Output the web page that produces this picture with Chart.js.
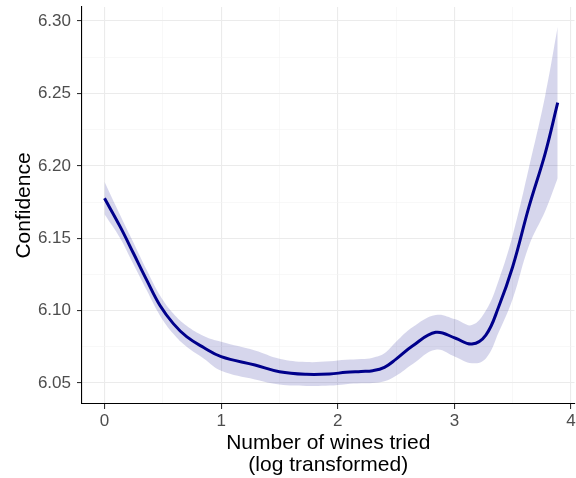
<!DOCTYPE html>
<html>
<head>
<meta charset="utf-8">
<script src="https://cdn.jsdelivr.net/npm/chart.js@4.4.1/dist/chart.umd.min.js"></script>
<style>
  html, body { margin: 0; padding: 0; background: #fff; overflow: hidden; }
  #wrap { position: relative; width: 576px; height: 478px; }
</style>
</head>
<body>
<div id="wrap"><canvas id="grafico_conf"></canvas></div>
<script>
// values (x = log number of wines tried)
var winesLog = [0, 0.134, 0.248, 0.362, 0.476, 0.59, 0.704, 0.85, 1.00, 1.29, 1.50, 1.73, 1.93, 2.07, 2.20, 2.30, 2.40, 2.50, 2.64, 2.84, 3.01, 3.15, 3.27, 3.38, 3.50, 3.64, 3.78, 3.886];
var confFit = [6.1776, 6.1580, 6.1396, 6.1211, 6.1035, 6.0910, 6.0820, 6.0745, 6.0682, 6.0624, 6.0578, 6.0560, 6.0562, 6.0574, 6.0580, 6.0585, 6.0608, 6.0665, 6.0755, 6.0850, 6.0809, 6.0769, 6.0831, 6.1027, 6.1303, 6.1718, 6.2090, 6.2436];
var confLower = [6.1665, 6.1500, 6.1320, 6.1140, 6.0965, 6.0840, 6.0750, 6.0670, 6.0585, 6.0525, 6.0490, 6.0480, 6.0482, 6.0492, 6.0498, 6.0500, 6.0512, 6.0550, 6.0630, 6.0730, 6.0680, 6.0636, 6.0670, 6.0850, 6.1080, 6.1450, 6.1690, 6.1914];
var confUpper = [6.1890, 6.1660, 6.1470, 6.1280, 6.1105, 6.0980, 6.0895, 6.0825, 6.0785, 6.0725, 6.0668, 6.0645, 6.0650, 6.0660, 6.0665, 6.0675, 6.0705, 6.0785, 6.0885, 6.0970, 6.0940, 6.0900, 6.1000, 6.1210, 6.1520, 6.1990, 6.2490, 6.2960];

var xTicks = [0, 0.5, 1, 1.5, 2, 2.5, 3, 3.5, 4];
var yTicks = [6.05, 6.075, 6.10, 6.125, 6.15, 6.175, 6.20, 6.225, 6.25, 6.275, 6.30];

function puntos(ys) {
    return winesLog.map(function (x, i) { return { x: x, y: ys[i] }; });
}

function esMayor(v, paso) {
    var k = v / paso;
    return Math.abs(k - Math.round(k)) < 1e-6;
}

var fuente = 'Liberation Sans, Arial, Helvetica, sans-serif';

var ctx = document.getElementById('grafico_conf').getContext('2d');
var chart = new Chart(ctx, {
    type: 'line',
    data: {
        datasets: [{
            label: 'fit',
            data: puntos(confFit),
            borderColor: '#00008b',
            borderWidth: 3,
            pointRadius: 0,
            tension: 0.4,
            fill: false
        }, {
            label: 'lower',
            data: puntos(confLower),
            borderWidth: 0,
            borderColor: 'rgba(0,0,0,0)',
            pointRadius: 0,
            tension: 0.4,
            fill: false
        }, {
            label: 'upper',
            data: puntos(confUpper),
            borderWidth: 0,
            borderColor: 'rgba(0,0,0,0)',
            backgroundColor: 'rgba(0,0,139,0.16)',
            pointRadius: 0,
            tension: 0.4,
            fill: '-1'
        }]
    },
    options: {
        responsive: true,
        maintainAspectRatio: false,
        animation: false,
        layout: { padding: { top: 7, left: 0, right: 0, bottom: 0 } },
        plugins: {
            legend: { display: false },
            tooltip: { enabled: false }
        },
        scales: {
            x: {
                type: 'linear',
                min: -0.193,
                max: 4.03,
                afterBuildTicks: function (scale) {
                    scale.ticks = xTicks.map(function (v) { return { value: v }; });
                },
                afterFit: function (scale) {
                    scale.height = 74;
                    scale.paddingLeft = 0;
                    scale.paddingRight = 0;
                },
                border: { display: true, color: '#000', width: 1.1 },
                grid: {
                    color: function (c) { return esMayor(c.tick.value, 1) ? '#ebebeb' : '#f3f3f3'; },
                    lineWidth: function (c) { return esMayor(c.tick.value, 1) ? 1.1 : 0.6; },
                    tickColor: function (c) { return esMayor(c.tick.value, 1) ? '#333' : 'rgba(0,0,0,0)'; },
                    tickLength: 5
                },
                ticks: {
                    autoSkip: false,
                    maxRotation: 0,
                    padding: 2,
                    color: '#4d4d4d',
                    font: { family: fuente, size: 17 },
                    callback: function (v) { return esMayor(v, 1) ? String(Math.round(v)) : ''; }
                },
                title: {
                    display: true,
                    text: ['Number of wines tried', '(log transformed)'],
                    color: '#000',
                    font: { family: fuente, size: 21, lineHeight: 1.05 },
                    padding: { top: 0, bottom: 2 }
                }
            },
            y: {
                type: 'linear',
                min: 6.0355,
                max: 6.3097,
                afterBuildTicks: function (scale) {
                    scale.ticks = yTicks.map(function (v) { return { value: v }; });
                },
                afterFit: function (scale) {
                    scale.width = 82;
                    scale.paddingTop = 0;
                    scale.paddingBottom = 0;
                },
                border: { display: true, color: '#000', width: 1.1 },
                grid: {
                    color: function (c) { return esMayor(c.tick.value, 0.05) ? '#ebebeb' : '#f3f3f3'; },
                    lineWidth: function (c) { return esMayor(c.tick.value, 0.05) ? 1.1 : 0.6; },
                    tickColor: function (c) { return esMayor(c.tick.value, 0.05) ? '#333' : 'rgba(0,0,0,0)'; },
                    tickLength: 5
                },
                ticks: {
                    autoSkip: false,
                    padding: 6,
                    color: '#4d4d4d',
                    font: { family: fuente, size: 17 },
                    callback: function (v) { return esMayor(v, 0.05) ? v.toFixed(2) : ''; }
                },
                title: {
                    display: true,
                    text: 'Confidence',
                    color: '#000',
                    font: { family: fuente, size: 21, lineHeight: 1.05 },
                    padding: { top: 13, bottom: 0 }
                }
            }
        }
    }
});
chart.update();
</script>
</body>
</html>
